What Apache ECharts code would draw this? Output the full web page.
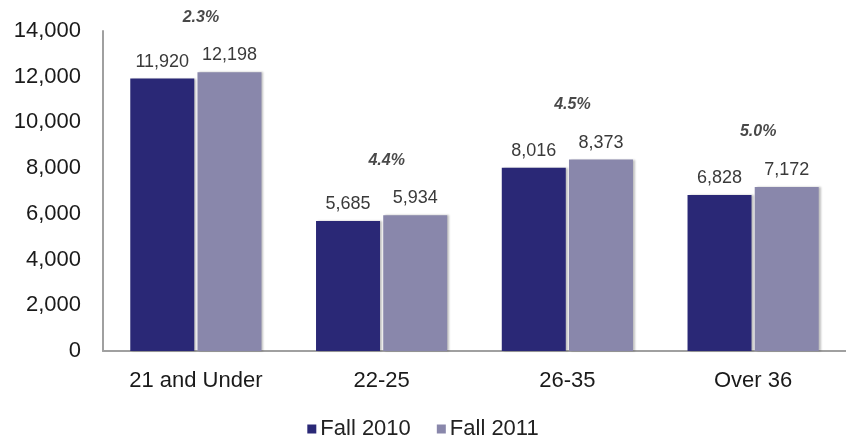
<!DOCTYPE html>
<html>
<head>
<meta charset="utf-8">
<script src="https://cdn.jsdelivr.net/npm/echarts@6/dist/echarts.min.js"></script>
<style>html,body{margin:0;padding:0;background:#fff;}#c{width:846px;height:436px;}</style>
</head>
<body>
<div id="c"></div>
<script>
const categories = ['21 and Under', '22-25', '26-35', 'Over 36'];
const fall2010 = [11920, 5685, 8016, 6828];
const fall2011 = [12198, 5934, 8373, 7172];
const changeLabels = ['2.3%', '4.4%', '4.5%', '5.0%'];
const yTicks = { min: 0, max: 14000, interval: 2000 };

const FONT = '"Liberation Sans", Arial, sans-serif';
const fmt = v => v.toLocaleString('en-US');
const groupMax = fall2010.map((v, i) => Math.max(v, fall2011[i]));

const chart = echarts.init(document.getElementById('c'));
chart.setOption({
  animation: false,
  backgroundColor: '#fff',
  grid: { left: 103, right: -7, top: 31, bottom: 85, containLabel: false },
  legend: {
    data: ['Fall 2010', 'Fall 2011'],
    top: 413,
    left: 'center',
    itemWidth: 9, itemHeight: 9, itemGap: 26,
    icon: 'rect',
    textStyle: { fontFamily: FONT, fontSize: 22, color: '#222', padding: [0, 0, 0, -1] }
  },
  xAxis: {
    type: 'category',
    data: categories,
    axisTick: { show: false },
    axisLine: { lineStyle: { color: '#a0a0a0', width: 2 } },
    axisLabel: { fontFamily: FONT, fontSize: 22, color: '#1a1a1a', margin: 19 }
  },
  yAxis: {
    type: 'value',
    min: yTicks.min, max: yTicks.max, interval: yTicks.interval,
    splitLine: { show: false },
    axisTick: { show: false },
    axisLine: { show: true, lineStyle: { color: '#a0a0a0', width: 2 } },
    axisLabel: { fontFamily: FONT, fontSize: 22, color: '#1a1a1a', margin: 22, formatter: v => fmt(v) }
  },
  series: [
    {
      name: 'Fall 2010', type: 'bar', data: fall2010,
      barWidth: 64, barGap: '5%',
      itemStyle: { color: '#2a2876', shadowColor: 'rgba(0,0,0,0.25)', shadowOffsetX: 2, shadowBlur: 2 },
      label: { show: true, position: 'top', distance: 8, fontFamily: FONT, fontSize: 18, color: '#3a3a3a', formatter: p => fmt(p.value) }
    },
    {
      name: 'Fall 2011', type: 'bar', data: fall2011,
      barWidth: 64,
      itemStyle: { color: '#8987ab', shadowColor: 'rgba(0,0,0,0.25)', shadowOffsetX: 2, shadowBlur: 2 },
      label: { show: true, position: 'top', distance: 8, fontFamily: FONT, fontSize: 18, color: '#3a3a3a', formatter: p => fmt(p.value) }
    },
    {
      name: 'change', type: 'scatter', data: groupMax,
      symbolSize: 0, silent: true,
      label: {
        show: true, position: 'inside', offset: [5, -55],
        fontFamily: FONT, fontSize: 16, fontWeight: 'bold', fontStyle: 'italic', color: '#1a1a1a',
        formatter: p => changeLabels[p.dataIndex]
      }
    }
  ]
});
</script>
</body>
</html>
